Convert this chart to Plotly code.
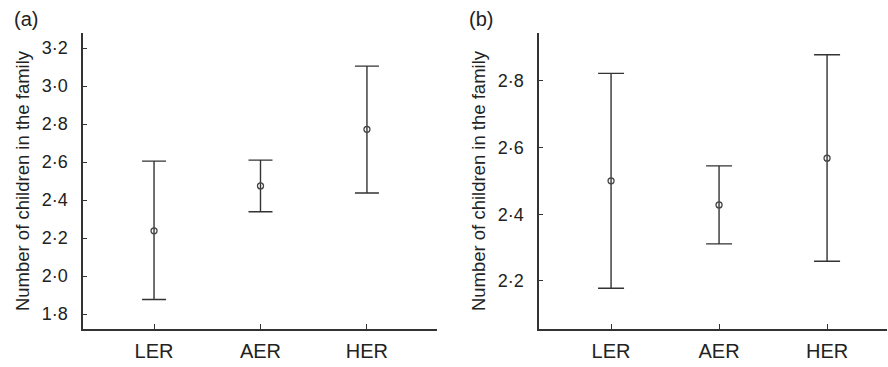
import plotly.graph_objects as go

categories = ["LER", "AER", "HER"]

# Panel (a)
a_mean = [2.238, 2.474, 2.772]
a_upper = [2.605, 2.610, 3.105]
a_lower = [1.876, 2.338, 2.437]
a_tickvals = [1.8, 2.0, 2.2, 2.4, 2.6, 2.8, 3.0, 3.2]
a_ticktext = ["1·8", "2·0", "2·2", "2·4", "2·6", "2·8", "3·0", "3·2"]

# Panel (b)
b_mean = [2.500, 2.428, 2.568]
b_upper = [2.822, 2.545, 2.878]
b_lower = [2.178, 2.311, 2.259]
b_tickvals = [2.2, 2.4, 2.6, 2.8]
b_ticktext = ["2·2", "2·4", "2·6", "2·8"]

ytitle = "Number of children in the family"
ink = "#222222"
font = "Liberation Sans, Arial, sans-serif"

fig = go.Figure()

def add_panel(mean, upper, lower, xa, ya, capw):
    fig.add_trace(go.Scatter(
        x=categories, y=mean, mode="markers",
        xaxis=xa, yaxis=ya,
        marker=dict(symbol="circle-open", size=6, color="#444444", line=dict(width=1.3)),
        error_y=dict(type="data", symmetric=False,
                     array=[u - m for u, m in zip(upper, mean)],
                     arrayminus=[m - l for m, l in zip(mean, lower)],
                     color="#333333", thickness=1.4, width=capw),
        showlegend=False, hoverinfo="skip",
    ))

add_panel(a_mean, a_upper, a_lower, "x", "y", 12)
add_panel(b_mean, b_upper, b_lower, "x2", "y2", 13)

xcommon = dict(type="category", showline=True, linecolor="#333333", linewidth=1.5,
               ticks="inside", ticklen=5, tickcolor="#333333", showgrid=False, zeroline=False,
               tickfont=dict(size=20, color=ink, family=font), ticklabelstandoff=3)
ycommon = dict(showline=True, linecolor="#333333", linewidth=1.5,
               ticks="inside", ticklen=4, tickcolor="#333333", showgrid=False, zeroline=False,
               tickfont=dict(size=18, color=ink, family=font), ticklabelstandoff=10)

fig.update_layout(
    width=888, height=367,
    margin=dict(l=0, r=0, t=0, b=0),
    paper_bgcolor="white", plot_bgcolor="white",
    font=dict(family=font, color=ink),
    xaxis=dict(domain=[0.0935, 0.492], range=[-0.667, 2.657], anchor="y", **xcommon),
    xaxis2=dict(domain=[0.607, 0.999], range=[-0.667, 2.556], anchor="y2", **xcommon),
    yaxis=dict(domain=[0.1035, 0.910], range=[1.721, 3.279], anchor="x",
               tickvals=a_tickvals, ticktext=a_ticktext,
               title=dict(text=ytitle, font=dict(size=18.5, color=ink, family=font), standoff=7),
               **ycommon),
    yaxis2=dict(domain=[0.1035, 0.910], range=[2.056, 2.943], anchor="x2",
                tickvals=b_tickvals, ticktext=b_ticktext,
                title=dict(text=ytitle, font=dict(size=18.5, color=ink, family=font), standoff=7),
                **ycommon),
)

panel_labels = [("(a)", 12, 19), ("(b)", 467, 19)]
anns = []
for text, px, py in panel_labels:
    anns.append(dict(text=text, x=px / 888, y=1 - py / 367, xref="paper", yref="paper",
                     xanchor="left", yanchor="middle", showarrow=False,
                     font=dict(size=20, color=ink, family=font)))
fig.update_layout(annotations=anns)

fig.write_html("out.html")
